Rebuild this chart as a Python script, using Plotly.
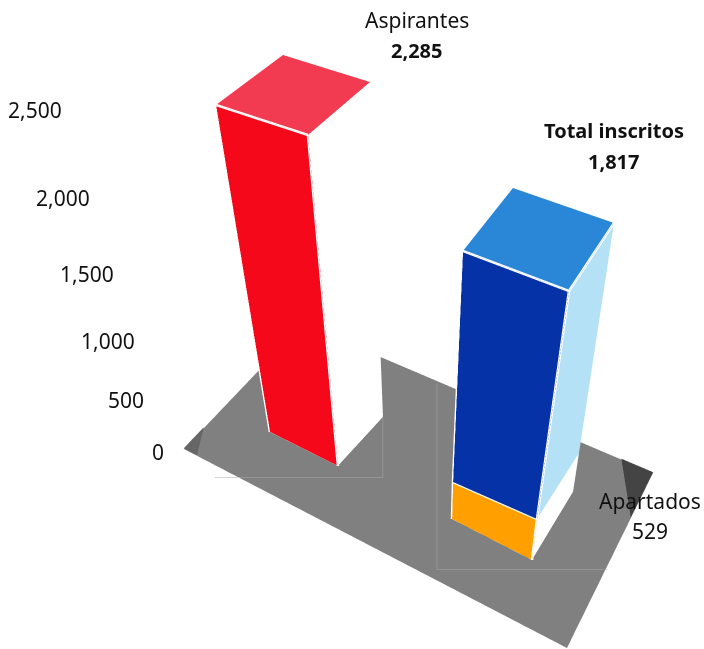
import plotly.graph_objects as go

# ---- chart values and labels -------------------------------------------
categories = ["Aspirantes", "Total inscritos", "Apartados"]
values = [2285, 1817, 529]
tick_values = [0, 500, 1000, 1500, 2000, 2500]

# The reference draws its slab for "Apartados" much thinner than its label,
# and its printed scale slightly tighter than its bars.
apartados_drawn_height = 339
tick_scale = 0.911
z_range = [0, 2800]

# ---- footprints on the floor (scene x, y) ------------------------------
red_base = [(-0.7411, 0.7142), (-0.5897, 0.7098), (-0.5884, 0.8483), (-0.7594, 0.8816)]
red_top = [(-0.7131, 0.6895), (-0.5571, 0.6754), (-0.5898, 0.8554), (-0.7594, 0.8816)]
blue_base = [(-0.3686, 0.7102), (-0.2275, 0.7042), (-0.2241, 0.8592), (-0.3900, 0.9018)]
blue_top = [(-0.3721, 0.7228), (-0.2285, 0.7089), (-0.2368, 0.8808), (-0.3900, 0.9018)]
orange_top = [(-0.3671, 0.7066), (-0.2293, 0.7072), (-0.2253, 0.8591)]
floor = [(-0.8434, 0.6060), (-0.8849, 0.9970), (-0.1237, 0.9661), (-0.1277, 0.5984)]
floor_line_left = [(-0.7513, 0.5836), (-0.5093, 0.7262), (-0.5884, 0.8483)]
floor_line_right = [(-0.5470, 0.9737), (-0.3422, 0.6162), (-0.1240, 0.7448)]
tick_anchor = (-0.8995, 0.5648)
label_aspirantes = [(-0.6789, 1.1269), (-0.6003, 0.9958)]
label_total = [(-0.3352, 1.1563), (-0.2974, 1.0505)]
label_apartados = [(-0.0994, 0.8220), (-0.0825, 0.7691)]

# ---- scene set-up ------------------------------------------------------
x_range = [-0.9195, -0.0625]
y_range = [0.5448, 1.1763]
aspect = dict(x=0.8570, y=0.6315, z=0.7573)
eye = dict(x=0.4910, y=-0.8605, z=0.6213)
center = dict(x=0.0880, y=-0.1763, z=0.0135)

# ---- colours -----------------------------------------------------------
RED_FRONT, RED_TOP = "#f5081a", "#f23a50"
BLUE_FRONT, BLUE_TOP, BLUE_SIDE = "#0632a8", "#2a87d8", "#b4e1f5"
ORANGE, WHITE = "#ffa000", "#ffffff"
FLOOR, FLOOR_LEFT, FLOOR_RIGHT, GUIDE = "#808080", "#666666", "#444444", "#a8a8a8"
INK = "#111111"

fig = go.Figure()
flat = dict(ambient=1, diffuse=0, specular=0, fresnel=0, roughness=1)


def at(points, z):
    return [(p[0], p[1], z) for p in points]


def poly(points, color):
    n = len(points)
    fig.add_trace(go.Mesh3d(
        x=[p[0] for p in points], y=[p[1] for p in points], z=[p[2] for p in points],
        i=[0] * (n - 2), j=list(range(1, n - 1)), k=list(range(2, n)),
        color=color, flatshading=True, lighting=flat, hoverinfo="skip", showscale=False))


def edge(points, color=WHITE, width=5):
    fig.add_trace(go.Scatter3d(
        x=[p[0] for p in points], y=[p[1] for p in points], z=[p[2] for p in points],
        mode="lines", line=dict(color=color, width=width), hoverinfo="skip", showlegend=False))


def lerp(p, q, t):
    return (p[0] + (q[0] - p[0]) * t, p[1] + (q[1] - p[1]) * t)


# floor with its two darker corners and the thin guide lines
poly(at(floor, 0), FLOOR)
A, B, C, D = floor
poly(at([A, lerp(A, B, 0.143), lerp(A, D, 0.044)], 7), FLOOR_LEFT)
poly(at([C, lerp(C, B, 0.074), lerp(C, D, 0.302)], 7), FLOOR_RIGHT)
edge(at(floor_line_left, 7), GUIDE, 1)
edge(at(floor_line_right, 7), GUIDE, 1)

# red bar
z_red, z_blue, z_orange = values[0], values[1], apartados_drawn_height
rb, rt = at(red_base, 0), at(red_top, z_red)
poly([rb[0], rb[1], rt[1], rt[0]], RED_FRONT)
poly([rb[1], rb[2], rt[2], rt[1]], WHITE)
poly(rt, RED_TOP)
edge([rt[0], rt[1]])
edge([rt[0], rb[0], rb[1], rt[1]])

# stacked bar
bb, bt, ot = at(blue_base, 0), at(blue_top, z_blue), at(orange_top, z_orange)
poly([bb[0], bb[1], ot[1], ot[0]], ORANGE)
poly([bb[1], bb[2], ot[2], ot[1]], WHITE)
poly([ot[0], ot[1], bt[1], bt[0]], BLUE_FRONT)
poly([ot[1], ot[2], bt[2], bt[1]], BLUE_SIDE)
poly(bt, BLUE_TOP)
edge([bt[0], bt[1], bt[2]])
edge([bt[0], ot[0]])
edge([bt[1], ot[1]])
edge([ot[0], ot[1]])
edge([ot[0], bb[0], bb[1], ot[1]])


def note(pos, z, text, size=21, xshift=0):
    return dict(x=pos[0], y=pos[1], z=z, text=text, showarrow=False, xshift=xshift,
                xanchor="center", yanchor="middle",
                font=dict(family="Noto Sans", size=size, color=INK))


annotations = [note(tick_anchor, t * tick_scale, f"{t:,}", xshift=15 if t == 0 else 0) for t in tick_values]
annotations += [
    note(label_aspirantes[0], z_red, categories[0]),
    note(label_aspirantes[1], z_red, f"<b>{values[0]:,}</b>", 20),
    note(label_total[0], z_blue, f"<b>{categories[1]}</b>", 20),
    note(label_total[1], z_blue, f"<b>{values[1]:,}</b>", 20),
    note(label_apartados[0], z_orange, categories[2]),
    note(label_apartados[1], z_orange, f"{values[2]:,}"),
]

hidden = dict(visible=False, showgrid=False, showbackground=False, zeroline=False, showspikes=False)
fig.update_layout(
    width=704, height=649, margin=dict(l=0, r=0, t=0, b=0), showlegend=False, paper_bgcolor="white",
    scene=dict(
        domain=dict(x=[146 / 704, 1], y=[0, 1]),
        xaxis=dict(hidden, range=x_range), yaxis=dict(hidden, range=y_range), zaxis=dict(hidden, range=z_range),
        aspectmode="manual", aspectratio=aspect,
        camera=dict(eye=eye, center=center, up=dict(x=0, y=0, z=1), projection=dict(type="perspective")),
        annotations=annotations))
fig.write_html("out.html", config={"displayModeBar": False}, post_script="document.body.style.margin='0';")
